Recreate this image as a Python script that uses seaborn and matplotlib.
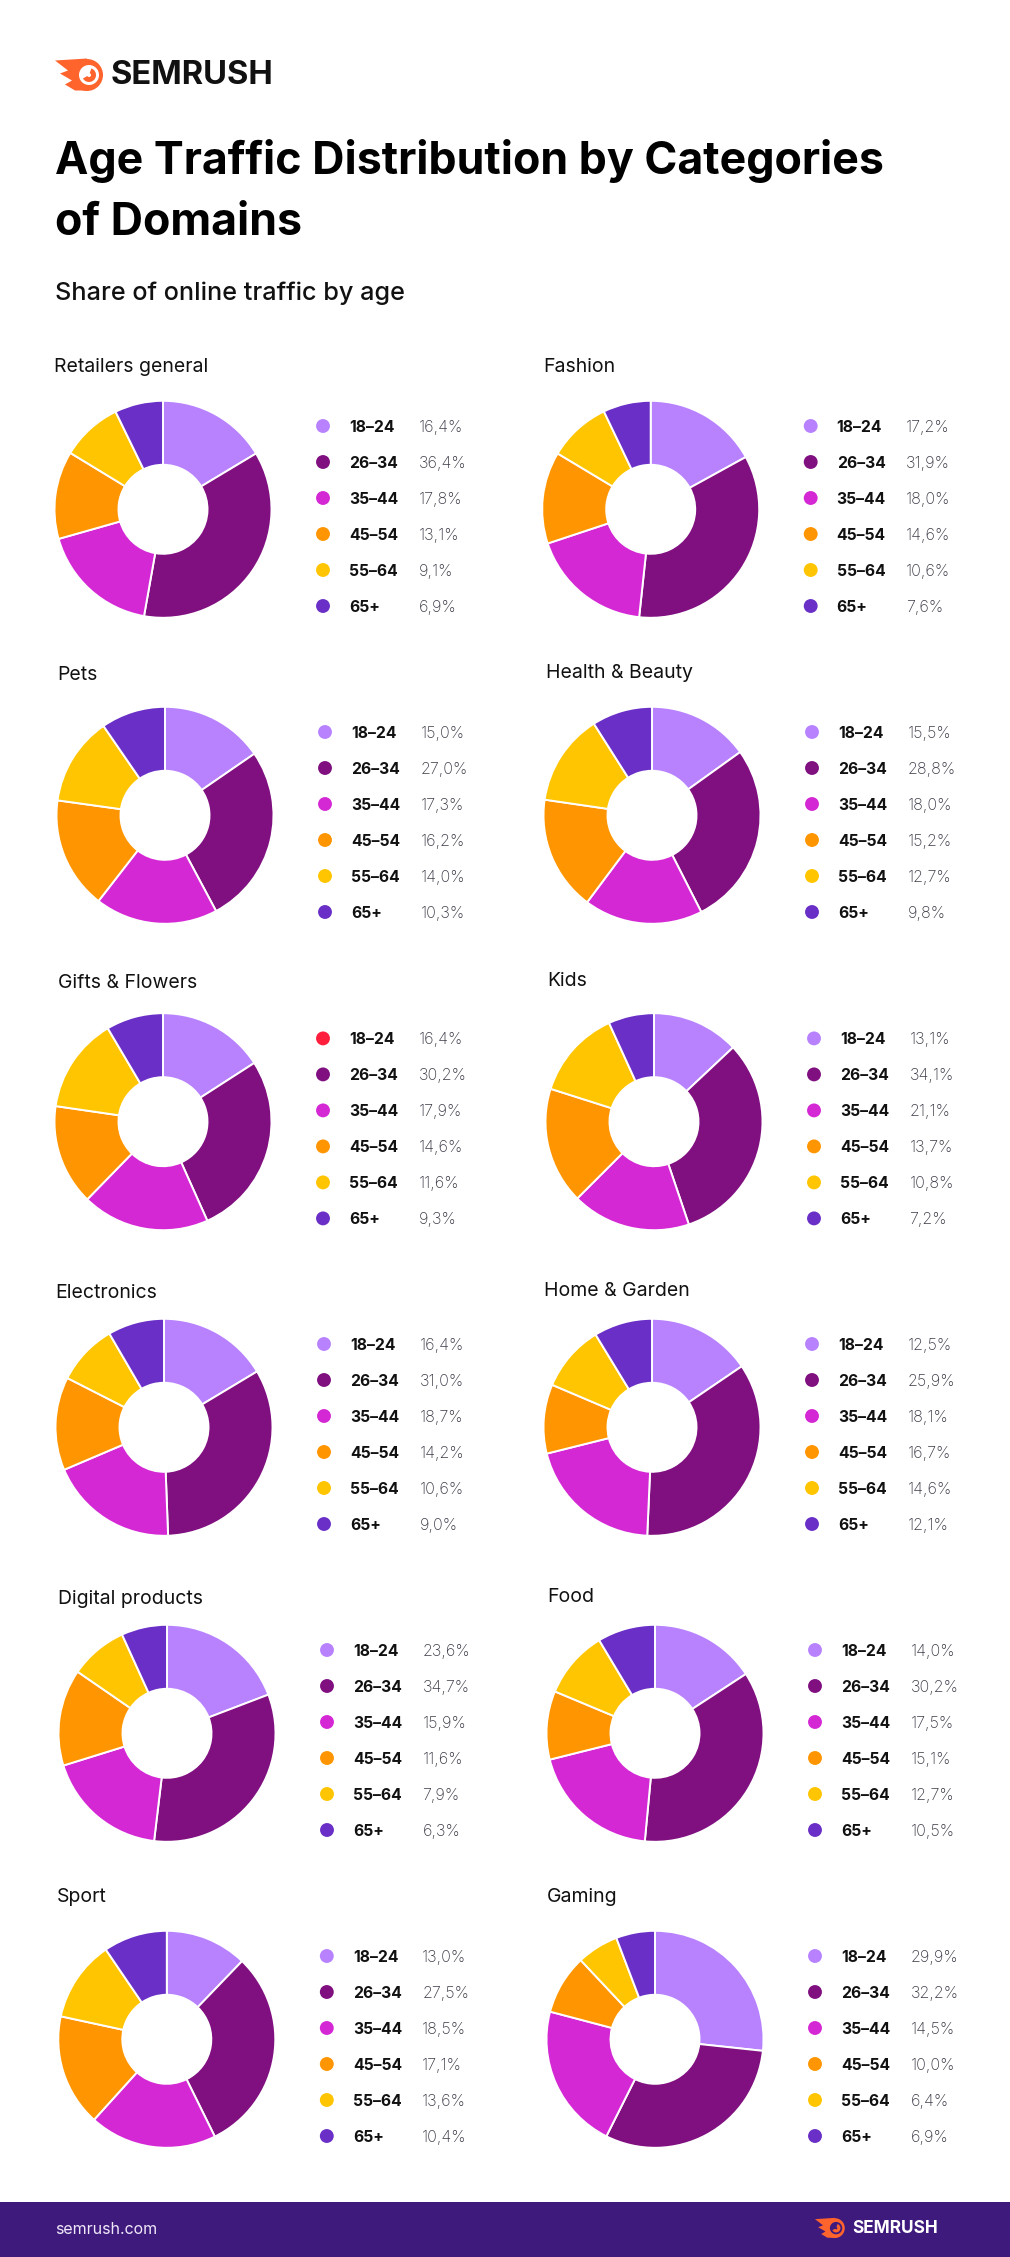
import matplotlib
matplotlib.use("Agg")
import matplotlib.pyplot as plt
from matplotlib.patches import Circle, Polygon, Rectangle, Wedge
import seaborn as sns

W, H = 1010, 2257
FONT = "Inter"

CATEGORIES = ["Retailers general", "Fashion", "Pets", "Health & Beauty", "Gifts & Flowers", "Kids",
              "Electronics", "Home & Garden", "Digital products", "Food", "Sport", "Gaming"]
AGES = ["18–24", "26–34", "35–44", "45–54", "55–64", "65+"]
COLORS = ["#B882FF", "#800F80", "#D528D5", "#FF9500", "#FFC500", "#6A2FC6"]
GIFTS_FIRST_DOT = "#FF1F3D"

# printed legend values
retailers_lbl = ["16,4%", "36,4%", "17,8%", "13,1%", "9,1%", "6,9%"]
fashion_lbl = ["17,2%", "31,9%", "18,0%", "14,6%", "10,6%", "7,6%"]
pets_lbl = ["15,0%", "27,0%", "17,3%", "16,2%", "14,0%", "10,3%"]
health_lbl = ["15,5%", "28,8%", "18,0%", "15,2%", "12,7%", "9,8%"]
gifts_lbl = ["16,4%", "30,2%", "17,9%", "14,6%", "11,6%", "9,3%"]
kids_lbl = ["13,1%", "34,1%", "21,1%", "13,7%", "10,8%", "7,2%"]
electronics_lbl = ["16,4%", "31,0%", "18,7%", "14,2%", "10,6%", "9,0%"]
home_lbl = ["12,5%", "25,9%", "18,1%", "16,7%", "14,6%", "12,1%"]
digital_lbl = ["23,6%", "34,7%", "15,9%", "11,6%", "7,9%", "6,3%"]
food_lbl = ["14,0%", "30,2%", "17,5%", "15,1%", "12,7%", "10,5%"]
sport_lbl = ["13,0%", "27,5%", "18,5%", "17,1%", "13,6%", "10,4%"]
gaming_lbl = ["29,9%", "32,2%", "14,5%", "10,0%", "6,4%", "6,9%"]

retailers = [16.4, 36.4, 17.8, 13.1, 9.1, 7.2]
fashion = [17.0, 34.7, 18.2, 13.7, 9.3, 7.1]
pets = [15.4, 26.8, 18.3, 16.7, 13.2, 9.6]
health = [15.1, 27.4, 17.7, 17.1, 13.7, 9.0]
gifts = [15.9, 27.4, 19.0, 15.0, 14.2, 8.5]
kids = [13.0, 31.8, 17.7, 17.4, 13.3, 6.8]
electronics = [16.4, 33.0, 19.2, 13.9, 9.1, 8.4]
home = [15.5, 35.2, 20.4, 10.3, 9.9, 8.7]
digital = [19.2, 32.7, 18.3, 14.4, 8.6, 6.8]
food = [15.8, 35.7, 19.6, 10.2, 10.1, 8.6]
sport = [12.2, 30.5, 19.0, 16.7, 12.1, 9.5]
gaming = [26.7, 30.7, 21.7, 8.9, 6.2, 5.8]

SHARES = [retailers, fashion, pets, health, gifts, kids, electronics, home, digital, food, sport, gaming]
LABELS = [retailers_lbl, fashion_lbl, pets_lbl, health_lbl, gifts_lbl, kids_lbl,
          electronics_lbl, home_lbl, digital_lbl, food_lbl, sport_lbl, gaming_lbl]

# layout, in pixels
CENTERS = [(163, 509.3), (650.7, 509.3), (165, 815.3), (652, 815.3), (163, 1121.7), (654, 1121.7),
           (164, 1427.3), (652, 1427.3), (167, 1733.3), (655, 1733.3), (166.8, 2039.3), (655, 2039.3)]
TITLE_POS = [(54, 367.5), (543, 367.5), (57, 674.5), (545.5, 673.5), (58, 982.5), (547, 981.5),
             (55, 1292.5), (544.5, 1291.5), (58, 1598.5), (547, 1597.5), (57, 1896.5), (546.5, 1896.5)]
R, HOLE = 108.5, 44.5

sns.set_theme(style="white")
plt.rcParams["font.family"] = [FONT, "DejaVu Sans"]

fig = plt.figure(figsize=(W / 100, H / 100), dpi=100, facecolor="white")
bg = fig.add_axes([0, 0, 1, 1])
bg.set_xlim(0, W)
bg.set_ylim(H, 0)
bg.axis("off")


def logo(x, y, s, text_color, fs, tx):
    c = "#FF642D"
    pts = [(0, 1), (32, -1), (32, 31), (20, 31), (10, 25), (17, 21), (5, 14), (13, 11)]
    bg.add_patch(Polygon([(x + a * s, y + b * s) for a, b in pts], color=c, lw=0))
    bg.add_patch(Circle((x + 32 * s, y + 15.5 * s), 16 * s, color=c, lw=0))
    bg.add_patch(Circle((x + 34 * s, y + 15.5 * s), 10 * s, color="white" if text_color != "white" else "#3F1A7D", lw=0))
    bg.add_patch(Wedge((x + 34 * s, y + 15.5 * s), 7 * s, -70, 150, width=5 * s, color=c, lw=0))
    bg.text(tx, y + 16 * s, "SEMRUSH", fontsize=fs, fontweight="bold", color=text_color, va="center", ha="left")


logo(55, 59.5, 1.0, "#111111", 23.6, 111)
bg.text(55, 161, "Age Traffic Distribution by Categories", fontsize=32.2, fontweight="bold", color="black", va="center")
bg.text(55, 223, "of Domains", fontsize=32.2, fontweight="bold", color="black", va="center")
bg.text(55, 293.5, "Share of online traffic by age", fontsize=18.2, fontweight="medium", color="#111111", va="center")

for i, (name, share, lbl) in enumerate(zip(CATEGORIES, SHARES, LABELS)):
    cx, cy = CENTERS[i]
    bg.text(*TITLE_POS[i], name, fontsize=14, color="#111111", va="center", ha="left")

    ax = fig.add_axes([(cx - R - 2) / W, 1 - (cy + R + 2) / H, (2 * R + 4) / W, (2 * R + 4) / H])
    ax.pie(share, colors=sns.color_palette(COLORS), startangle=90, counterclock=False, radius=R / (R + 2),
           wedgeprops={"width": (R - HOLE) / (R + 2), "edgecolor": "white", "linewidth": 1.4})
    ax.set_xlim(-1, 1)
    ax.set_ylim(-1, 1)

    dots = list(COLORS)
    if name == "Gifts & Flowers":
        dots[0] = GIFTS_FIRST_DOT
    ys = [cy - 83.3 + 36 * k for k in range(len(AGES))]
    sns.scatterplot(x=[cx + 160] * len(AGES), y=ys, hue=AGES, palette=dots, s=100, linewidth=0,
                    legend=False, ax=bg, clip_on=False)
    for age, val, y in zip(AGES, lbl, ys):
        bg.text(cx + 186, y + 1.2, age, fontsize=11.3, fontweight="bold", color="#111111", va="center", ha="left")
        bg.text(cx + 255.5, y + 1.2, val, fontsize=11.6, fontweight="light", color="#3C3C48", va="center", ha="left")

bg.set_xlim(0, W)
bg.set_ylim(H, 0)
bg.axis("off")

bg.add_patch(Rectangle((0, 2202), W, 55, color="#3F1A7D", lw=0))
bg.text(55, 2229, "semrush.com", fontsize=11.5, color="#EFE8F8", va="center", ha="left")
logo(815, 2218.5, 0.62, "white", 12.4, 852)

fig.savefig("out.png", dpi=100, facecolor="white")
